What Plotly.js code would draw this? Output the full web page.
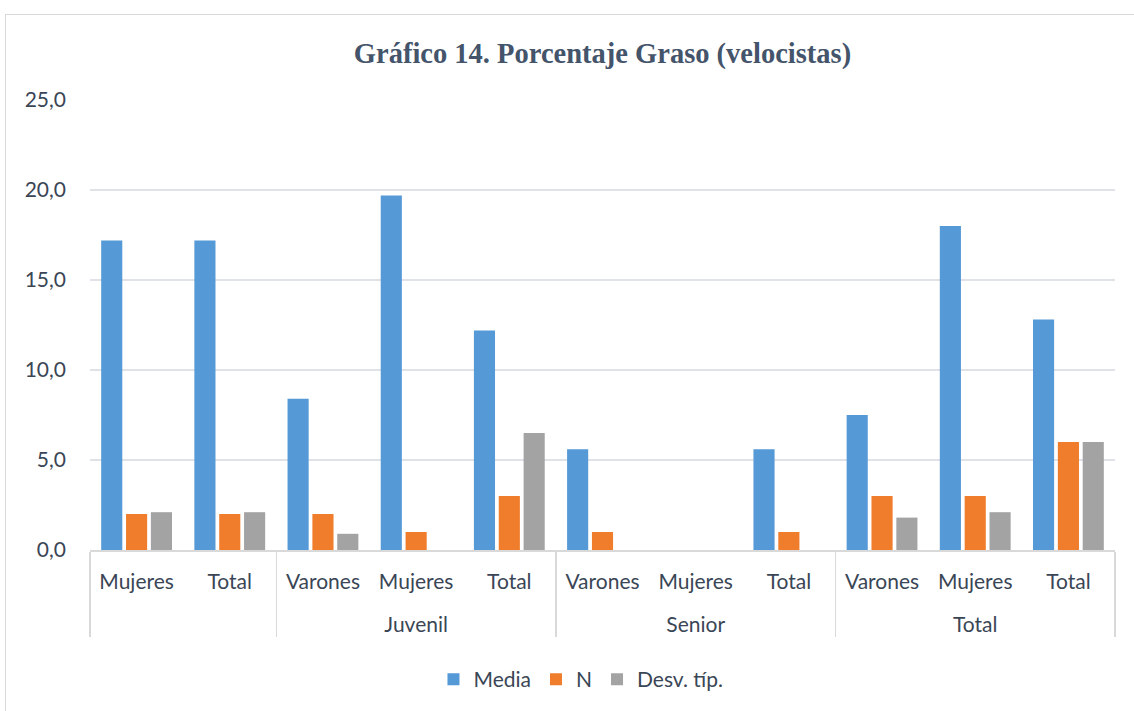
<!DOCTYPE html>
<html>
<head>
<meta charset="utf-8">
<script src="https://cdn.plot.ly/plotly-3.0.1.min.js"></script>
<style>
html,body{margin:0;padding:0;background:#fff;}
#frame{position:absolute;left:5px;top:14px;width:1140px;height:710px;border:1px solid #d9d9d9;box-sizing:border-box;pointer-events:none;}
#chart{position:absolute;left:0;top:0;width:1134px;height:711px;}
</style>
</head>
<body>
<div id="chart"></div>
<div id="frame"></div>
<script>
const groups = [" ", " ", "Juvenil", "Juvenil", "Juvenil", "Senior", "Senior", "Senior", "Total", "Total", "Total"];
const categories = ["Mujeres", "Total", "Varones", "Mujeres", "Total", "Varones", "Mujeres", "Total", "Varones", "Mujeres", "Total"];
const media = [17.2, 17.2, 8.4, 19.7, 12.2, 5.6, null, 5.6, 7.5, 18.0, 12.8];
const nVals = [2, 2, 2, 1, 3, 1, null, 1, 3, 3, 6];
const desv = [2.1, 2.1, 0.9, null, 6.5, null, null, null, 1.8, 2.1, 6.0];
const yTicks = [0, 5, 10, 15, 20, 25];

// Plotly orders multicategory inner labels by first appearance; an invisible
// zero-width prefix on the unlabeled first group keeps Varones-Mujeres-Total order.
const ZW = "\u200B";
const inner = categories.map((c, i) => (groups[i] === " " ? ZW : "") + c);
const outer = groups.map(g => "<br>" + g);
const x = [outer, inner];

const textColor = "#44546a";
const fam = "Lato, 'Open Sans', sans-serif";
const labColor = "#3a4656";

const traces = [
  {type: "bar", name: "Media", x: x, y: media, marker: {color: "#5599d6"}},
  {type: "bar", name: "N", x: x, y: nVals, marker: {color: "#f07d2b"}},
  {type: "bar", name: "Desv. típ.", x: x, y: desv, marker: {color: "#a3a3a3"}}
];

const layout = {
  width: 1134, height: 711,
  margin: {l: 90, r: 19, t: 100, b: 160},
  paper_bgcolor: "#fff", plot_bgcolor: "#fff",
  separators: ",.",
  barmode: "group",
  bargap: 0.2,
  bargroupgap: 0.15,
  title: {
    text: "<b>Gráfico 14. Porcentaje Graso (velocistas)</b>",
    xref: "paper", x: 0.5, xanchor: "center", y: 0.925, yanchor: "middle",
    font: {family: "'Liberation Serif', 'Times New Roman', serif", size: 28.5, color: textColor}
  },
  font: {family: fam, size: 21, color: labColor},
  xaxis: {
    type: "multicategory",
    showline: true, linecolor: "#d9d9d9", linewidth: 2,
    showdividers: true, dividercolor: "#d9d9d9", dividerwidth: 1.5,
    tickfont: {family: fam, size: 21, color: labColor},
    ticklabelstandoff: 12,
    ticks: ""
  },
  yaxis: {
    range: [0, 25],
    tickvals: yTicks,
    tickformat: ".1f",
    showgrid: true, gridcolor: "#dfe3e8", gridwidth: 1.5,
    zeroline: false, showline: false,
    ticklabelstandoff: 23,
    tickfont: {family: fam, size: 21, color: labColor}
  },
  legend: {
    orientation: "h", x: 0.479, xanchor: "center", y: -0.285, yanchor: "middle",
    font: {family: fam, size: 21, color: labColor},
    itemwidth: 30, traceorder: "normal"
  },
  showlegend: true
};

Plotly.newPlot("chart", traces, layout, {displayModeBar: false, staticPlot: true});
</script>
</body>
</html>
